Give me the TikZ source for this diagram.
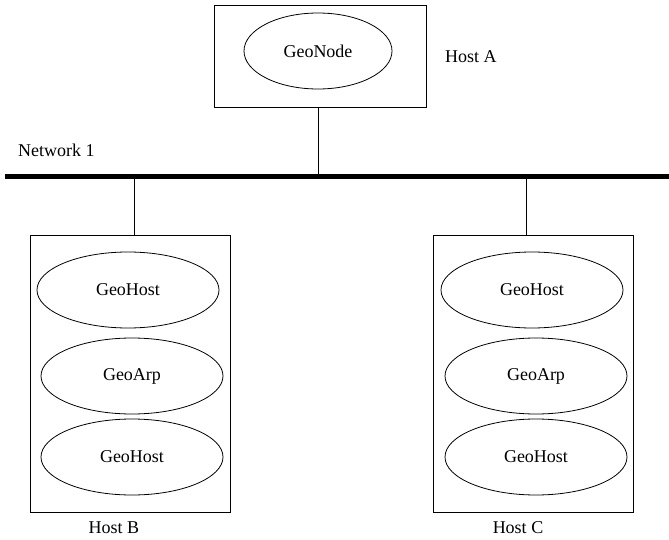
\documentclass[tikz,border=0pt]{standalone}
\usepackage{fontspec}
\setmainfont{Liberation Serif}
\usetikzlibrary{shapes.geometric}
\begin{document}
\begin{tikzpicture}[x=1pt,y=-1pt,
  hostbox/.style={draw, line width=0.8pt, inner sep=0pt},
  proc/.style={draw, ellipse, line width=0.8pt, inner sep=0pt,
    minimum width=182pt, minimum height=76pt, font=\fontsize{18}{20}\selectfont},
  lbl/.style={font=\fontsize{18}{20}\selectfont, inner sep=0pt},
  link/.style={line width=0.8pt},
  busline/.style={line width=5pt}]
\useasboundingbox (0,0) rectangle (669,540);

% Host A with the GeoNode process
\node[hostbox, minimum width=212pt, minimum height=102pt] (hostA) at (320,56) {};
\node[proc, minimum width=148pt] (geonode) at (318,51) {GeoNode};
\node[lbl, anchor=west] (labA) at (445,57) {Host A};

% Network 1 bus
\coordinate (busL) at (5,177);
\coordinate (busR) at (669,177);
\draw[busline] (busL) -- (busR);
\node[lbl, anchor=west] (net) at (18,150) {Network 1};
\coordinate (tapA) at (318,177);
\coordinate (tapB) at (134,177);
\coordinate (tapC) at (526,177);

% Host B
\node[hostbox, minimum width=200pt, minimum height=277pt] (hostB) at (130,373.5) {};
\node[proc] (b1) at (128,290) {GeoHost};
\node[proc] (b2) at (132,376) {GeoArp};
\node[proc] (b3) at (132,457) {GeoHost};
\node[lbl] (labB) at (114,528) {Host B};

% Host C
\node[hostbox, minimum width=200pt, minimum height=277pt] (hostC) at (533,373.5) {};
\node[proc] (c1) at (532,290) {GeoHost};
\node[proc] (c2) at (536,376) {GeoArp};
\node[proc] (c3) at (536,457) {GeoHost};
\node[lbl] (labC) at (518,528) {Host C};

% attachments to the bus
\draw[link] (hostA.south -| tapA) -- (tapA);
\draw[link] (tapB) -- (tapB |- hostB.north);
\draw[link] (tapC) -- (tapC |- hostC.north);
\end{tikzpicture}
\end{document}
